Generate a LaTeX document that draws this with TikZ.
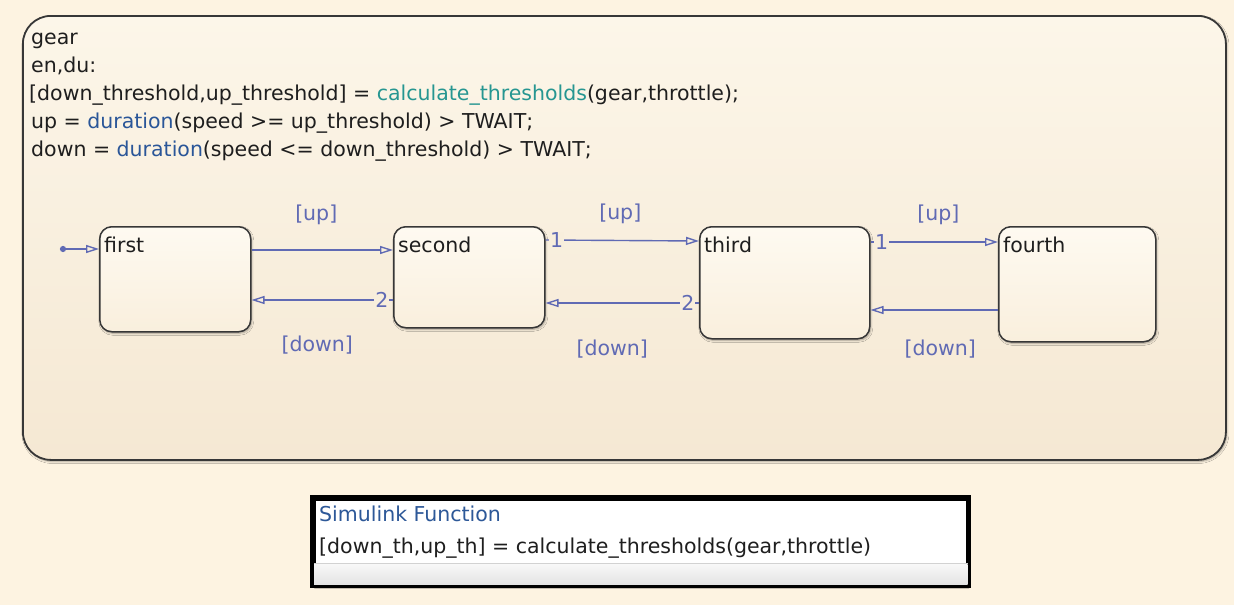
\documentclass[tikz,border=0pt]{standalone}
\usepackage{fontspec}
\setmainfont{DejaVu Sans}
\usetikzlibrary{arrows.meta, positioning, calc, shadows.blur}
\definecolor{bgcream}{RGB}{253,243,225}
\definecolor{charttop}{RGB}{252,246,233}
\definecolor{chartbot}{RGB}{245,232,211}
\definecolor{sttop}{RGB}{254,250,241}
\definecolor{stbot}{RGB}{249,239,221}
\definecolor{framegray}{RGB}{55,55,55}
\definecolor{inkgray}{RGB}{30,30,30}
\definecolor{trblue}{RGB}{96,106,180}
\definecolor{fnteal}{RGB}{38,150,145}
\definecolor{kwblue}{RGB}{42,86,152}
\definecolor{slblue}{RGB}{45,88,152}
\tikzset{softshadow/.style={blur shadow={shadow xshift=1pt,shadow yshift=-1.5pt,shadow blur radius=2pt,shadow blur steps=4,shadow opacity=35}},chart/.style={draw=framegray,line width=1.8pt,rounded corners=28pt,top color=charttop,bottom color=chartbot,softshadow,anchor=north west,inner sep=0pt},stbox/.style={draw=framegray,line width=1.5pt,rounded corners=12pt,top color=sttop,bottom color=stbot,softshadow,anchor=north west,inner sep=0pt},stname/.style={anchor=base west,inner sep=0pt,xshift=5pt,yshift=-26pt,text=inkgray},code/.style={anchor=base west,inner sep=0pt,text=inkgray},line/.style={draw=trblue,line width=1.4pt,-{Triangle[open,length=13pt,width=8pt]}},guard/.style={text=trblue,inner sep=0pt},order/.style={text=trblue,inner sep=1pt,fill=charttop!40!chartbot},funcbox/.style={draw=black,line width=3.5pt,fill=white,softshadow,anchor=north west,inner sep=0pt}}

\begin{document}
\begin{tikzpicture}[x=1pt,y=-1pt,font=\fontsize{20.5}{28}\selectfont]
\fill[bgcream] (0,0) rectangle (1234,605);
\useasboundingbox (0,0) rectangle (1234,605);
% chart
\node[chart, minimum width=1203pt, minimum height=444pt] (gear) at (22,15) {};
\node[code] (l1) at (31,44) {gear};
\node[code] (l2) at (31,72) {en,du:};
\node[code] (l3) at (29,100) {[down\_threshold,up\_threshold] = \textcolor{fnteal}{calculate\_thresholds}(gear,throttle);};
\node[code] (l4) at (31,128) {up = \textcolor{kwblue}{duration}(speed >= up\_threshold) > TWAIT;};
\node[code] (l5) at (31,156) {down = \textcolor{kwblue}{duration}(speed <= down\_threshold) > TWAIT;};
% states
\node[stbox, minimum width=151pt, minimum height=105pt, label={[stname]north west:first}] (first) at (99,226) {};
\node[stbox, minimum width=151pt, minimum height=101pt, label={[stname]north west:second}] (second) at (393,226) {};
\node[stbox, minimum width=170pt, minimum height=112pt, label={[stname]north west:third}] (third) at (699,226) {};
\node[stbox, minimum width=157pt, minimum height=115pt, label={[stname]north west:fourth}] (fourth) at (998,226) {};
% transitions
\node[circle, fill=trblue, inner sep=2.2pt] (init) at (63,249) {};
\draw[line] (init) -- ($(first.north west)+(0,23)$);
\draw[line] ($(first.north east)+(0,24)$) -- node[guard, above=25pt, xshift=-6pt]{[up]} ($(second.north west)+(0,24)$);
\draw[line] ($(second.north west)+(0,74)$) -- node[order, at start, anchor=east, xshift=-3pt]{2} node[guard, below=35pt, xshift=-5pt]{[down]} ($(first.north east)+(0,74)$);
\draw[line] ($(second.north east)+(0,14)$) -- node[order, at start, anchor=west, xshift=3pt]{1} node[guard, above=16pt, xshift=-2pt]{[up]} ($(third.north west)+(0,15)$);
\draw[line] ($(third.north west)+(0,77)$) -- node[order, at start, anchor=east, xshift=-3pt]{2} node[guard, below=36pt, xshift=-10pt]{[down]} ($(second.north east)+(0,77)$);
\draw[line] ($(third.north east)+(0,16)$) -- node[order, at start, anchor=west, xshift=3pt]{1} node[guard, above=17pt, xshift=4pt]{[up]} ($(fourth.north west)+(0,16)$);
\draw[line] ($(fourth.north west)+(0,84)$) -- node[guard, below=29pt, xshift=6pt]{[down]} ($(third.north east)+(0,84)$);
% simulink function
\node[funcbox, minimum width=654pt, minimum height=86pt] (slfunc) at (312,497) {};
\shade[top color=gray!6, bottom color=gray!22] ($(slfunc.south west)+(2,-22)$) rectangle ($(slfunc.south east)+(-2,-2)$);
\draw[gray!35, line width=1pt] ($(slfunc.south west)+(2,-23)$) -- ($(slfunc.south east)+(-2,-23)$);
\draw[black, line width=3.5pt] (slfunc.south west) rectangle (slfunc.north east);
\node[code, text=slblue] (sltitle) at (319,521) {Simulink Function};
\node[code] (slsig) at (319,553) {[down\_th,up\_th] = calculate\_thresholds(gear,throttle)};
\end{tikzpicture}
\end{document}
